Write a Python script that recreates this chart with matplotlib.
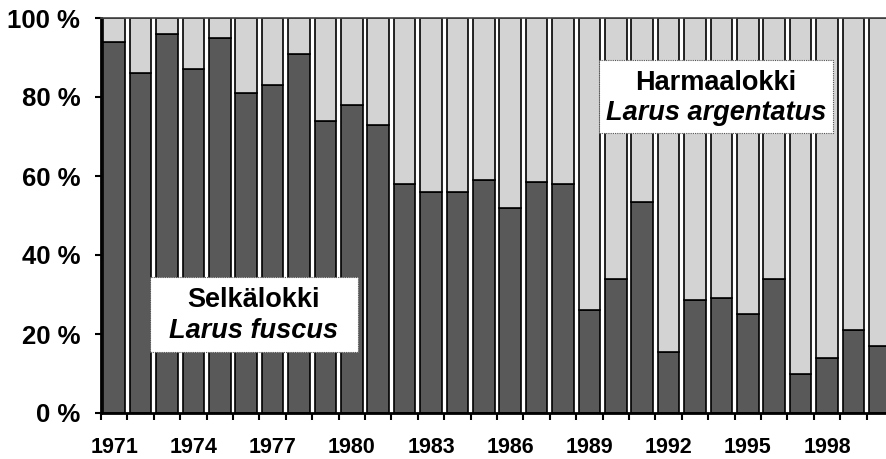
import matplotlib
matplotlib.use("Agg")
import matplotlib.pyplot as plt
from matplotlib.patches import Rectangle
import numpy as np

years = list(range(1971, 2001))
selkalokki = [94, 86, 96, 87, 95, 81, 83, 91, 74, 78, 73, 58, 56, 56, 59, 52, 58.5, 58,
              26, 34, 53.5, 15.5, 28.5, 29, 25, 34, 10, 14, 21, 17]
harmaalokki = [100 - v for v in selkalokki]
ytick_vals = [0, 20, 40, 60, 80, 100]
ytick_labels = ["0 %", "20 %", "40 %", "60 %", "80 %", "100 %"]
xtick_years = [1971, 1974, 1977, 1980, 1983, 1986, 1989, 1992, 1995, 1998]

plt.rcParams['font.family'] = ['Liberation Sans', 'DejaVu Sans']

fig = plt.figure(figsize=(8.86, 4.59), dpi=100)
ax = fig.add_axes([101/886, 46/459, 792/886, 395/459])

dark = "#595959"
light = "#d3d3d3"
x = np.array(years)
ax.bar(x, selkalokki, width=0.82, color=dark, edgecolor="black", linewidth=1.2)
ax.bar(x, harmaalokki, bottom=selkalokki, width=0.82, color=light, edgecolor="black", linewidth=1.2)

ax.set_xlim(years[0] - 0.5, years[-1] + 0.5)
ax.set_ylim(0, 100)

ax.set_yticks(ytick_vals)
ax.set_yticklabels(ytick_labels, fontsize=18.5, fontweight="bold")
ax.tick_params(axis="y", direction="out", length=4, width=1.5, pad=11)

ax.set_xticks(xtick_years)
ax.set_xticklabels([str(y) for y in xtick_years], fontsize=15.5, fontweight="bold")
ax.set_xticks([y - 0.5 for y in years] + [years[-1] + 0.5], minor=True)
ax.tick_params(axis="x", which="major", length=0, pad=17)
ax.tick_params(axis="x", which="minor", direction="out", length=5, width=1.5)

for s in ["left", "bottom"]:
    ax.spines[s].set_linewidth(2)
ax.spines["top"].set_linewidth(1.2)
ax.spines["top"].set_color("#444444")
ax.spines["right"].set_visible(False)

def label_box(x0, y0, x1, y1, line1, line2):
    # pixel coords (top-left origin) -> figure fraction
    W, H = 886, 459
    r = Rectangle((x0 / W, 1 - y1 / H), (x1 - x0) / W, (y1 - y0) / H,
                  transform=fig.transFigure, facecolor="white", edgecolor="#555555",
                  linewidth=0.8, linestyle=(0, (1, 1)), zorder=5)
    fig.patches.append(r)
    cx = (x0 + x1) / 2 / W
    fig.text(cx, 1 - (y0 + 0.31 * (y1 - y0)) / H, line1, ha="center", va="center",
             fontsize=19.5, fontweight="bold", zorder=6)
    fig.text(cx, 1 - (y0 + 0.72 * (y1 - y0)) / H, line2, ha="center", va="center",
             fontsize=19.5, fontweight="bold", fontstyle="italic", zorder=6)

label_box(150, 277, 358, 352, "Selkälokki", "Larus fuscus")
label_box(599, 60, 833, 133, "Harmaalokki", "Larus argentatus")

fig.savefig("out.png", dpi=100)
